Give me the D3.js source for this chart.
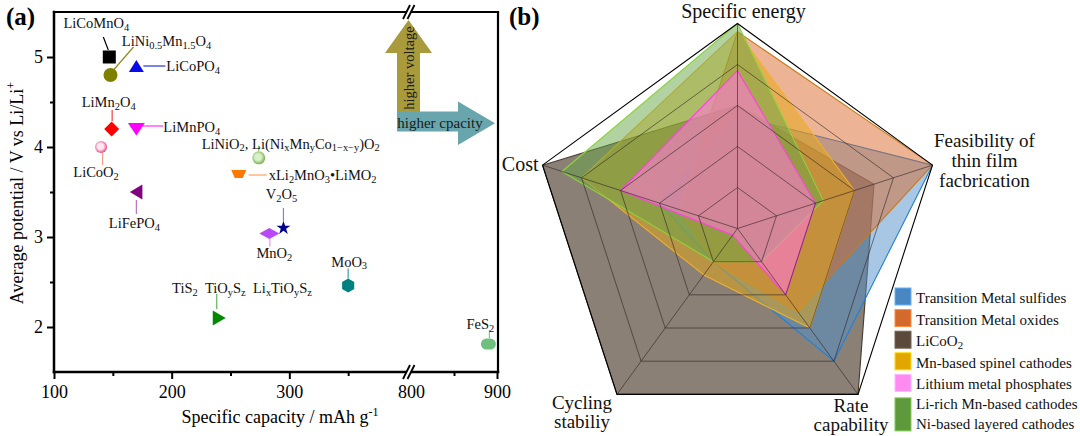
<!DOCTYPE html>
<html>
<head>
<meta charset="utf-8">
<script src="https://cdn.jsdelivr.net/npm/d3@7"></script>
<style>
  body { margin: 0; background: #fff; }
  svg { display: block; font-family: "Liberation Serif", "Times New Roman", serif; }
</style>
</head>
<body>
<svg id="chart" width="1080" height="436"></svg>
<script>
(function () {
  "use strict";

  // ---- panel (a): cathode materials ----
  var materials = ["LiCoMnO_{4}", "LiNi_{0.5}Mn_{1.5}O_{4}", "LiCoPO_{4}", "LiMn_{2}O_{4}", "LiMnPO_{4}",
    "LiCoO_{2}", "LiFePO_{4}", "LiNiO_{2}, Li(Ni_{x}Mn_{y}Co_{1\u2212x\u2212y})O_{2}", "xLi_{2}MnO_{3}\u2022LiMO_{2}",
    "V_{2}O_{5}", "MnO_{2}", "MoO_{3}", "TiS_{2}\u2002TiO_{y}S_{z}\u2002Li_{x}TiO_{y}S_{z}", "FeS_{2}"];
  var capacity = [147, 148, 170, 149, 170, 140, 170, 274, 257, 295, 283, 350, 240, 890];
  var voltage = [5.0, 4.8, 4.9, 4.2, 4.2, 4.0, 3.5, 3.88, 3.7, 3.1, 3.04, 2.46, 2.1, 1.81];
  var xTicksMajor = [100, 200, 300, 800, 900];
  var xTicksMinor = [150, 250, 350, 850];
  var yTicksMajor = [2, 3, 4, 5];
  var yTicksMinor = [2.5, 3.5, 4.5];

  // ---- panel (b): radar ----
  var radarAxes = ["Specific energy", "Feasibility of\nthin film\nfacbrication", "Rate\ncapability", "Cycling\nstabiliy", "Cost"];
  var gridLevels = [1, 2, 3, 4, 5];
  var seriesNames = ["Transition Metal sulfides", "Transition Metal oxides", "LiCoO_{2}",
    "Mn-based spinel cathodes", "Lithium metal phosphates", "Li-rich Mn-based cathodes\nNi-based layered cathodes"];
  var sulfideScores = [2.75, 5, 4, 1, 2];
  var oxideScores = [4.8, 5, 2.5, 1, 1.5];
  var licoo2Scores = [3, 3.5, 5, 5, 5];
  var spinelScores = [4.8, 3, 3, 1.4, 4];
  var phosphateScores = [3.85, 2, 2, 0.2, 3];
  var layeredScores = [5, 2.2, 1, 1, 4.5];
  var seriesScores = [sulfideScores, oxideScores, licoo2Scores, spinelScores, phosphateScores, layeredScores];

  // ---- styles ----
  var markerStyle = [
    { shape: "square", color: "#000", lead: "#000", l: [-6, -20, -1, -7], t: [-13, -29, "middle"] },
    { shape: "circle", color: "#808000", lead: "#8a8a20", l: [3, -5, 23, -28], t: [56, -29, "middle"] },
    { shape: "triUp", color: "#0a0aea", lead: "#2030e0", l: [7, 0, 29, 0], t: [30, 5, "start"] },
    { shape: "diamond", color: "#ff0000", lead: "#f04040", l: [0.5, -19, 0.5, -8], t: [-3, -22, "middle"] },
    { shape: "triDown", color: "#ff00ff", lead: "#ff30ff", l: [6, -3, 27, -3], t: [27, 3, "start"] },
    { shape: "ballPink", color: "#e84a84", lead: "#f0a080", l: [1.5, 6, 1.5, 18], t: [-5, 30, "middle"] },
    { shape: "triLeft", color: "#800080", lead: "#c070c8", l: [0, 8, 0, 22], t: [-2, 36, "middle"] },
    { shape: "ballGreen", color: "#78b050", lead: "#70b040", l: [0, -12, 0, -7], t: [-57, -9, "start"] },
    { shape: "trapezoid", color: "#ff7800", lead: "#ffa060", l: [10, 1, 28, 1], t: [30, 6, "start"] },
    { shape: "star", color: "#000090", lead: "#8080e0", l: [0, -20, 0, -7], t: [-2, -29, "middle"] },
    { shape: "wideDiamond", color: "#b848f8", lead: "#f090f0", l: [0.5, 5, 0.5, 13], t: [5, 25, "middle"] },
    { shape: "hexagon", color: "#008080", lead: "#40a0a0", l: [0, -17, 0, -7], t: [1, -19, "middle"] },
    { shape: "triRight", color: "#008a00", lead: "#60b060", l: [-2, -24, -2, -9], t: [-46.7, -25, "start"] },
    { shape: "capsule", color: "#6fbf7f", lead: "#70d080", l: [1, -14, 1, -6], t: [-8, -15, "middle"] }
  ];
  var seriesStyle = [
    { fill: "#4f8fcc", op: 0.5, stroke: "#1f80d8", swatch: "#4a86c2" },
    { fill: "#d9692a", op: 0.5, stroke: "#cc7a18", swatch: "#d4692c" },
    { fill: "#5a4a3c", op: 0.7, stroke: "#4a3a2c", swatch: "#5b4a3c" },
    { fill: "#e6a812", op: 0.5, stroke: "#f2b02a", swatch: "#e2a600" },
    { fill: "#ff78d6", op: 0.6, stroke: "#ff40e0", swatch: "#ff8af0" },
    { fill: "#66a646", op: 0.5, stroke: "#8cd43c", swatch: "#5e9a3c" }
  ];
  var drawOrder = [2, 0, 1, 3, 5, 4];

  var svg = d3.select("#chart");
  svg.append("rect").attr("width", 1080).attr("height", 436).attr("fill", "#fff");

  var defs = svg.append("defs");
  function ballGradient(id, inner, outer) {
    var g = defs.append("radialGradient").attr("id", id).attr("cx", "45%").attr("cy", "45%").attr("r", "55%");
    g.append("stop").attr("offset", "0%").attr("stop-color", inner);
    g.append("stop").attr("offset", "45%").attr("stop-color", inner);
    g.append("stop").attr("offset", "100%").attr("stop-color", outer);
  }
  ballGradient("gPink", "#ffe8f0", "#e84a84");
  ballGradient("gGreen", "#d8f0c8", "#78b050");

  // text with _{sub} markup
  function richText(sel, str) {
    var parts = str.split(/(_\{[^}]*\})/);
    var low = false;
    parts.forEach(function (p) {
      if (!p) return;
      if (p.indexOf("_{") === 0) {
        var t = sel.append("tspan").attr("font-size", "0.72em").text(p.slice(2, -1));
        if (!low) { t.attr("dy", 2.5); low = true; }
      } else {
        var n = sel.append("tspan").text(p);
        if (low) { n.attr("dy", -2.5); low = false; }
      }
    });
  }

  // ================= panel (a) =================
  var x1 = d3.scaleLinear().domain([100, 400]).range([54, 407]);
  var x2 = d3.scaleLinear().domain([800, 900]).range([411, 497]);
  function xPos(c) { return c >= 800 ? x2(c) : x1(c); }
  var y = d3.scaleLinear().domain([1.5, 5.5]).range([372, 12]);
  var left = 54, right = 498, top = y(5.5), bottom = y(1.5);

  var ga = svg.append("g");

  function styleAxis(g) {
    g.select(".domain").remove();
    g.selectAll(".tick line").attr("stroke", "#000").attr("stroke-width", 2);
    g.selectAll(".tick text").attr("font-size", 18).attr("fill", "#000")
      .attr("font-family", '"Liberation Serif", "Times New Roman", serif');
  }
  [[x1, function (v) { return v < 800; }], [x2, function (v) { return v >= 800; }]].forEach(function (seg) {
    ga.append("g").attr("transform", "translate(0," + bottom + ")")
      .call(d3.axisBottom(seg[0]).tickValues(xTicksMajor.filter(seg[1])).tickSize(7).tickPadding(6))
      .call(styleAxis)
      .selectAll(".tick").filter(function (d) { return d === 800; }).select("line").remove();
    ga.append("g").attr("transform", "translate(0," + bottom + ")")
      .call(d3.axisBottom(seg[0]).tickValues(xTicksMinor.filter(seg[1])).tickSize(4).tickFormat(""))
      .call(styleAxis);
  });
  ga.append("g").attr("transform", "translate(" + left + ",0)")
    .call(d3.axisLeft(y).tickValues(yTicksMajor).tickSize(7).tickPadding(4).tickFormat(d3.format("d")))
    .call(styleAxis);
  ga.append("g").attr("transform", "translate(" + left + ",0)")
    .call(d3.axisLeft(y).tickValues(yTicksMinor).tickSize(4).tickFormat("")).call(styleAxis);

  // frame
  var frame = ga.append("g").attr("stroke", "#000").attr("fill", "none").attr("stroke-linecap", "square");
  frame.append("line").attr("x1", left).attr("y1", top).attr("x2", left).attr("y2", bottom).attr("stroke-width", 2.5);
  frame.append("line").attr("x1", left).attr("y1", bottom).attr("x2", right).attr("y2", bottom).attr("stroke-width", 2.5);
  frame.append("line").attr("x1", left).attr("y1", top).attr("x2", right).attr("y2", top).attr("stroke-width", 2.2);
  frame.append("line").attr("x1", right).attr("y1", top).attr("x2", right).attr("y2", bottom).attr("stroke-width", 2.2);

  // axis breaks
  var xb = (x1(400) + x2(800)) / 2;
  [top, bottom].forEach(function (yy) {
    ga.append("path").attr("d", "M" + (xb - 6) + "," + (yy + 7) + "L" + (xb + 1) + "," + (yy - 7) +
      "L" + (xb + 5) + "," + (yy - 7) + "L" + (xb - 2) + "," + (yy + 7) + "Z").attr("fill", "#fff");
    ga.append("line").attr("x1", xb - 6).attr("y1", yy + 7).attr("x2", xb + 1).attr("y2", yy - 7)
      .attr("stroke", "#000").attr("stroke-width", 1.8);
    ga.append("line").attr("x1", xb - 1.5).attr("y1", yy + 7).attr("x2", xb + 5.5).attr("y2", yy - 7)
      .attr("stroke", "#000").attr("stroke-width", 1.8);
  });

  // axis titles
  var yt = ga.append("text").attr("transform", "translate(23," + ((y(5.5) + y(1.5)) / 2 + 1) + ") rotate(-90)")
    .attr("text-anchor", "middle").attr("font-size", 18).text("Average potential / V vs Li/Li");
  yt.append("tspan").attr("font-size", 12).attr("dy", -8).text("+");
  var xt = ga.append("text").attr("x", 280).attr("y", 423).attr("text-anchor", "middle")
    .attr("font-size", 18).text("Specific capacity / mAh g");
  xt.append("tspan").attr("font-size", 12).attr("dy", -7).text("-1");

  ga.append("text").attr("x", 6).attr("y", 25).attr("font-size", 25).attr("font-weight", "bold").text("(a)");

  // arrows
  ga.append("path").attr("fill", "#a99b3b")
    .attr("d", "M397,112L397,53L385,53L408.5,20L432,53L420,53L420,112Z");
  ga.append("path").attr("fill", "#68a5ac")
    .attr("d", "M397,111.5L458,111.5L458,101.5L495,123.3L458,145L458,131.5L397,131.5Z");
  ga.append("text").attr("transform", "translate(413.5,68) rotate(-90)").attr("text-anchor", "middle")
    .attr("font-size", 14.5).attr("fill", "#1a1a1a").text("higher voltage");
  ga.append("text").attr("x", 440).attr("y", 127.5).attr("text-anchor", "middle")
    .attr("font-size", 15).attr("fill", "#1a1a1a").text("higher cpacity");

  // markers
  function markerPath(shape) {
    switch (shape) {
      case "square": return "M-6.5,-6.5h13v13h-13Z";
      case "triUp": return "M0,-6L7.5,6L-7.5,6Z";
      case "triDown": return "M-8.5,-6L8.5,-6L0,6.5Z";
      case "triLeft": return "M-6.5,0L6,-7.5L6,7.5Z";
      case "triRight": return "M7,0L-6,-7.5L-6,7.5Z";
      case "diamond": return "M0,-7.5L7.5,0L0,7.5L-7.5,0Z";
      case "wideDiamond": return "M0,-5.5L10,0L0,5.5L-10,0Z";
      case "trapezoid": return "M-7.5,-4L7.5,-4L4,4L-4,4Z";
      case "hexagon":
        return d3.range(6).map(function (k) {
          var a = -Math.PI / 2 + k * Math.PI / 3;
          return (k ? "L" : "M") + (7 * Math.cos(a)).toFixed(2) + "," + (7 * Math.sin(a)).toFixed(2);
        }).join("") + "Z";
      case "star": return d3.symbol(d3.symbolStar, 60)();
      case "capsule": return "M-2,-5.5h4a5.5,5.5 0 0 1 0,11h-4a5.5,5.5 0 0 1 0,-11Z";
      default: return d3.symbol(d3.symbolCircle, Math.PI * 49)();
    }
  }

  var pts = ga.append("g");
  materials.forEach(function (name, i) {
    var s = markerStyle[i];
    var px = xPos(capacity[i]), py = y(voltage[i]);
    pts.append("line").attr("x1", px + s.l[0]).attr("y1", py + s.l[1]).attr("x2", px + s.l[2]).attr("y2", py + s.l[3])
      .attr("stroke", s.lead).attr("stroke-width", 1.2);
    var fill = s.color;
    var r = 7;
    if (s.shape === "ballPink") { fill = "url(#gPink)"; r = 6; }
    if (s.shape === "ballGreen") { fill = "url(#gGreen)"; r = 6.5; }
    if (s.shape === "ballPink" || s.shape === "ballGreen") {
      pts.append("circle").attr("cx", px).attr("cy", py).attr("r", r).attr("fill", fill);
    } else {
      pts.append("path").attr("transform", "translate(" + px + "," + py + ")")
        .attr("d", markerPath(s.shape)).attr("fill", fill);
    }
    var t = pts.append("text").attr("x", px + s.t[0]).attr("y", py + s.t[1])
      .attr("text-anchor", s.t[2]).attr("font-size", 14.5).attr("fill", "#111");
    richText(t, name);
  });

  // ================= panel (b) =================
  var rc = { cx: 737.5, cy: 228.5 };
  var rr = d3.scaleLinear().domain([0, 5]).range([0, 205]);
  function ang(i) { return i * 2 * Math.PI / radarAxes.length; }
  function pt(i, v) { return [rc.cx + rr(v) * Math.sin(ang(i)), rc.cy - rr(v) * Math.cos(ang(i))]; }
  var closed = d3.line().curve(d3.curveLinearClosed);

  var gb = svg.append("g");
  drawOrder.forEach(function (k) {
    var st = seriesStyle[k];
    gb.append("path").attr("d", closed(seriesScores[k].map(function (v, i) { return pt(i, v); })))
      .attr("fill", st.fill).attr("fill-opacity", st.op)
      .attr("stroke", st.stroke).attr("stroke-width", 1.1).attr("stroke-linejoin", "round");
  });

  // grid on top
  var grid = gb.append("g").attr("fill", "none");
  gridLevels.forEach(function (lv) {
    grid.append("path").attr("d", closed(radarAxes.map(function (a, i) { return pt(i, lv); })))
      .attr("stroke", lv === 5 ? "#000" : "#2a2020")
      .attr("stroke-opacity", lv === 5 ? 1 : 0.65).attr("stroke-width", lv === 5 ? 1.1 : 0.9);
  });
  radarAxes.forEach(function (a, i) {
    var p = pt(i, 5);
    grid.append("line").attr("x1", rc.cx).attr("y1", rc.cy).attr("x2", p[0]).attr("y2", p[1])
      .attr("stroke", "#2a2020").attr("stroke-opacity", 0.65).attr("stroke-width", 0.9);
  });

  // axis labels
  var labelPos = [
    { dx: 6, dy: -6, anchor: "middle", lh: 19, fs: 20 },
    { dx: 52, dy: -18, anchor: "middle", lh: 20, fs: 19 },
    { dx: -7, dy: 18, anchor: "middle", lh: 19, fs: 19 },
    { dx: -35, dy: 15, anchor: "middle", lh: 19, fs: 19 },
    { dx: -4, dy: 6, anchor: "end", lh: 19, fs: 20 }
  ];
  radarAxes.forEach(function (a, i) {
    var p = pt(i, 5), lp = labelPos[i];
    var t = gb.append("text").attr("text-anchor", lp.anchor).attr("font-size", lp.fs).attr("fill", "#111");
    a.split("\n").forEach(function (line, j) {
      t.append("tspan").attr("x", p[0] + lp.dx).attr("y", p[1] + lp.dy + j * lp.lh).text(line);
    });
  });

  gb.append("text").attr("x", 509).attr("y", 25).attr("font-size", 25).attr("font-weight", "bold").text("(b)");

  // legend
  var lg = gb.append("g");
  var base = 303, step = 21.6;
  seriesNames.forEach(function (name, k) {
    var lines = name.split("\n");
    var by = k < 5 ? base + k * step : base + 4 * step + 19.5;
    var h = lines.length > 1 ? 33 : 17;
    var top0 = lines.length > 1 ? by - 11 : by - 15;
    lg.append("rect").attr("x", 895).attr("y", top0).attr("width", 16).attr("height", h)
      .attr("fill", seriesStyle[k].swatch).attr("stroke", d3.color(seriesStyle[k].swatch).brighter(0.8))
      .attr("stroke-width", 1);
    lines.forEach(function (line, j) {
      var t = lg.append("text").attr("x", 916).attr("y", by + j * 20.5).attr("font-size", 15).attr("fill", "#111");
      richText(t, line);
    });
  });
})();
</script>
</body>
</html>
